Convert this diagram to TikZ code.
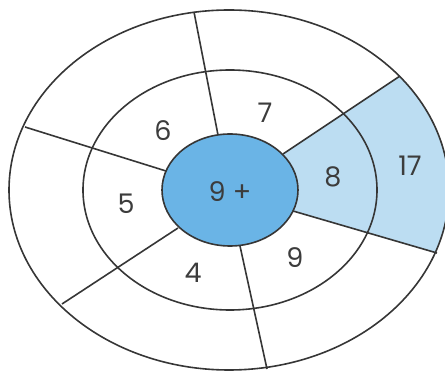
\documentclass[tikz,border=0pt]{standalone}
\usepackage{fontspec}
\setmainfont{Poppins}
\definecolor{linec}{HTML}{363636}
\definecolor{textc}{HTML}{3C3C3C}
\definecolor{hubblue}{HTML}{6AB4E6}
\definecolor{sectorblue}{HTML}{BCDDF2}
\begin{document}
\begin{tikzpicture}[x=1pt,y=-1pt,
  ring/.style={draw=linec,line width=1.6pt},
  spoke/.style={draw=linec,line width=1.6pt},
  lbl/.style={text=textc,font=\fontsize{27}{31}\selectfont,inner sep=0pt}]
\useasboundingbox (0,0) rectangle (445,371);
\clip (0,0) rectangle (445,371);
% coordinates of spoke ends
\coordinate (aIn) at (218,135); \coordinate (aOut) at (194,12);
\coordinate (bIn) at (166,171); \coordinate (bOut) at (25,127);
\coordinate (cIn) at (178,228); \coordinate (cOut) at (62,304);
\coordinate (dIn) at (240,246); \coordinate (dOut) at (267,369);
\coordinate (eIn) at (283,154); \coordinate (eOut) at (400,76);
\coordinate (fIn) at (293,211); \coordinate (fOut) at (437,253);
% shaded sector
\begin{scope}
  \clip (229,190) ellipse [x radius=220, y radius=180];
  \fill[sectorblue] (eIn) -- (459,37) -- (480,266) -- (fIn) -- cycle;
\end{scope}
% rings
\draw[ring] (229,190) ellipse [x radius=220, y radius=180];
\draw[ring] (230,190) ellipse [x radius=147, y radius=120];
% spokes
\draw[spoke] (aIn) -- (aOut);
\draw[spoke] (bIn) -- (bOut);
\draw[spoke] (cIn) -- (cOut);
\draw[spoke] (dIn) -- (dOut);
\draw[spoke] (eIn) -- (eOut);
\draw[spoke] (fIn) -- (fOut);
% hub
\draw[ring,fill=hubblue] (230,190) ellipse [x radius=68, y radius=56];
% labels
\node[lbl] (hub) at (230,192) {9 +};
\node[lbl] (n6) at (163,131) {6};
\node[lbl] (n7) at (265,113) {7};
\node[lbl] (n8) at (333,177) {8};
\node[lbl] (n17) at (410,166) {17};
\node[lbl] (n5) at (126,204) {5};
\node[lbl] (n4) at (193,273) {4};
\node[lbl] (n9) at (295,258) {9};
\end{tikzpicture}
\end{document}
